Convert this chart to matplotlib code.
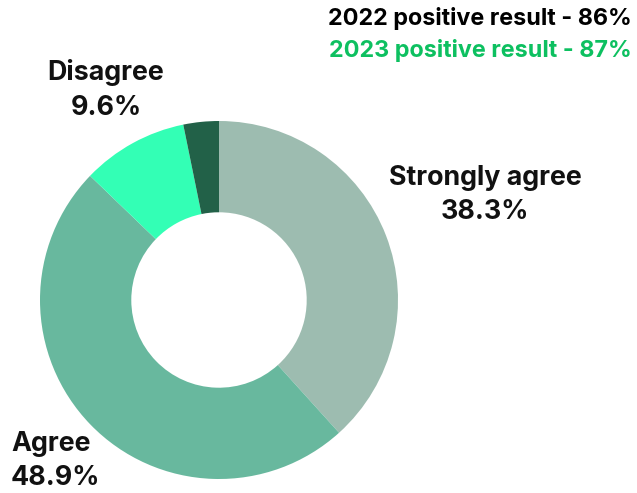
import matplotlib
matplotlib.use("Agg")
import matplotlib.pyplot as plt

# survey responses, clockwise from the top
categories = ["Strongly agree", "Agree", "Disagree", "Strongly disagree"]
values = [38.3, 48.9, 9.6, 3.2]
colors = ["#9dbcb0", "#68b89e", "#33ffb5", "#226148"]
results = ["2022 positive result - 86%", "2023 positive result - 87%"]

plt.rcParams['font.family'] = ['Inter', 'DejaVu Sans']

W, H = 637, 493
fig = plt.figure(figsize=(W / 100, H / 100), dpi=100)

# donut centred at (219, 300) px, outer radius 179 px
cx, cy, r = 219, 300, 179
ax = fig.add_axes([(cx - r) / W, (H - cy - r) / H, 2 * r / W, 2 * r / H])
ax.pie(values, colors=colors, startangle=90, counterclock=False, radius=1,
       wedgeprops=dict(width=0.51, linewidth=0))
ax.set_xlim(-1, 1)
ax.set_ylim(-1, 1)
ax.set_aspect("equal")
ax.axis("off")


def px(x, y):
    return x / W, 1 - y / H


lbl = dict(fontsize=19.3, fontweight="bold", color="#111111", linespacing=1.42)
fig.text(*px(485, 195), f"{categories[0]}\n{values[0]}%", ha="center", va="center", **lbl)
fig.text(*px(106, 90), f"{categories[2]}\n{values[2]}%", ha="center", va="center", **lbl)
fig.text(*px(11, 461), f"{categories[1]}\n{values[1]}%", ha="left", va="center", **lbl)

fig.text(*px(632, 18), results[0], ha="right", va="center",
         fontsize=16.8, fontweight="bold", color="#000000")
fig.text(*px(632, 50), results[1], ha="right", va="center",
         fontsize=16.8, fontweight="bold", color="#0dc060")

fig.savefig("out.png", dpi=100, facecolor="white")
